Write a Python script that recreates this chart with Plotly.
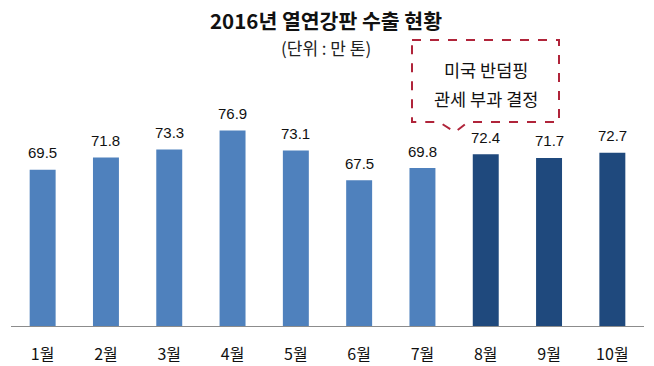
import plotly.graph_objects as go

months = ["1월", "2월", "3월", "4월", "5월", "6월", "7월", "8월", "9월", "10월"]
values = [69.5, 71.8, 73.3, 76.9, 73.1, 67.5, 69.8, 72.4, 71.7, 72.7]
after_duty = [False, False, False, False, False, False, False, True, True, True]

title_text = "2016년 열연강판 수출 현황"
unit_text = "(단위 : 만 톤)"
callout_lines = ["미국 반덤핑", "관세 부과 결정"]

LIGHT = "#4F81BD"
DARK = "#1F497D"
RED = "#B0243A"
KFONT = "Noto Sans CJK KR, Malgun Gothic, sans-serif"
NFONT = "Liberation Sans, Arial, sans-serif"

W, H = 654, 366
ML, MR, MT, MB = 11, 10, 114, 40
PW = W - ML - MR
PH = H - MT - MB


def px(x):
    return (x - ML) / PW


def py(y):
    return (H - MB - y) / PH


fig = go.Figure()
fig.add_trace(go.Bar(
    x=months,
    y=values,
    marker=dict(color=[DARK if a else LIGHT for a in after_duty], line=dict(width=0)),
    hoverinfo="x+y",
))

annotations = []
for m, v in zip(months, values):
    annotations.append(dict(
        x=m, y=v, xref="x", yref="y", text=f"{v:.1f}", showarrow=False,
        yanchor="middle", yshift=17, font=dict(family=NFONT, size=15, color="#111111"),
    ))

annotations.append(dict(
    x=px(326), y=py(48), xref="paper", yref="paper", text=unit_text, showarrow=False,
    xanchor="center", yanchor="middle", font=dict(family=KFONT, size=17, color="#222222"),
))
annotations.append(dict(
    x=px(326), y=py(20), xref="paper", yref="paper", text=f"<b>{title_text}</b>", showarrow=False,
    xanchor="center", yanchor="middle", font=dict(family=KFONT, size=20.5, color="#111111"),
))
for line, yy in zip(callout_lines, [69, 98]):
    annotations.append(dict(
        x=px(486), y=py(yy), xref="paper", yref="paper", text=line, showarrow=False,
        xanchor="center", yanchor="middle", font=dict(family=KFONT, size=17.5, color="#111111"),
    ))

pts = [(412, 40), (559, 40), (559, 122), (468, 122), (455, 132), (439, 122), (412, 122)]
path = "M " + " L ".join(f"{px(a):.5f},{py(b):.5f}" for a, b in pts) + " Z"

fig.update_layout(
    width=W, height=H,
    margin=dict(l=ML, r=MR, t=MT, b=MB, pad=0, autoexpand=False),
    paper_bgcolor="white", plot_bgcolor="white",
    showlegend=False,
    bargap=0.59,
    xaxis=dict(
        type="category", showline=True, linecolor="#8C8C8C", linewidth=1,
        ticks="", showgrid=False, ticklabelstandoff=14, automargin=False,
        tickfont=dict(family=KFONT, size=16, color="#111111"),
    ),
    yaxis=dict(range=[40, 80], visible=False, showgrid=False, zeroline=False, automargin=False),
    annotations=annotations,
    shapes=[dict(
        type="path", path=path, xref="paper", yref="paper",
        line=dict(color=RED, width=2, dash="dash"), fillcolor="white", layer="above",
    )],
)

fig.write_html(
    "out.html",
    config={"displayModeBar": False},
    post_script="document.body.style.margin='0';document.body.style.overflow='hidden';",
)
